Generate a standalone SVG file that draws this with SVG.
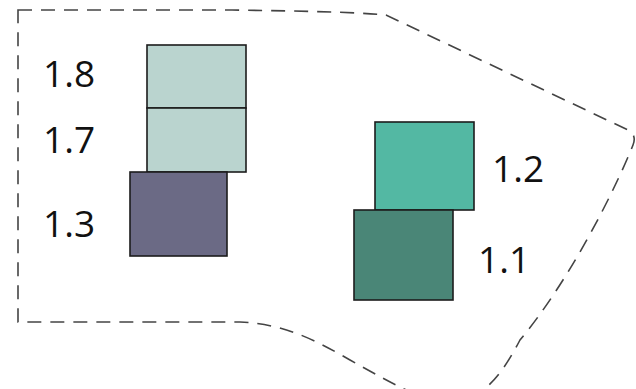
<svg xmlns="http://www.w3.org/2000/svg" width="636" height="389" viewBox="0 0 636 389">
<style>
.box{stroke:#1c1c1c;stroke-width:1.6}
.lbl{font-family:"Open Sans","Noto Sans",sans-serif;font-size:37px;fill:#111}
.outline{fill:none;stroke:#444;stroke-width:1.6;stroke-dasharray:14 9}
</style>
<rect width="636" height="389" fill="#fff"/>
<g id="boundary">
<path class="outline" d="M18,10 L232,10 C300,11 355,12 386,15 L628,130 Q637,135 633,145 C615,190 570,280 520,340 C500,378 480,404 445,400 C420,400 395,385 350,360 C315,340 285,324 240,322 L18,322 Z"/>
</g>
<g id="connectors"></g>
<g id="node-1.8">
<rect class="box" x="147" y="45" width="99" height="63" fill="#bad4cf"/>
<text class="lbl" x="43" y="87">1.8</text>
</g>
<g id="node-1.7">
<rect class="box" x="147" y="108" width="99" height="64" fill="#bad4cf"/>
<text class="lbl" x="43" y="153">1.7</text>
</g>
<g id="node-1.3">
<rect class="box" x="130" y="172" width="97" height="84" fill="#6b6a85"/>
<text class="lbl" x="43" y="237">1.3</text>
</g>
<g id="node-1.2">
<rect class="box" x="375" y="122" width="99" height="88" fill="#53b8a3"/>
<text class="lbl" x="492" y="182">1.2</text>
</g>
<g id="node-1.1">
<rect class="box" x="354" y="210" width="99" height="90" fill="#4a8677"/>
<text class="lbl" x="478" y="273">1.1</text>
</g>
</svg>
